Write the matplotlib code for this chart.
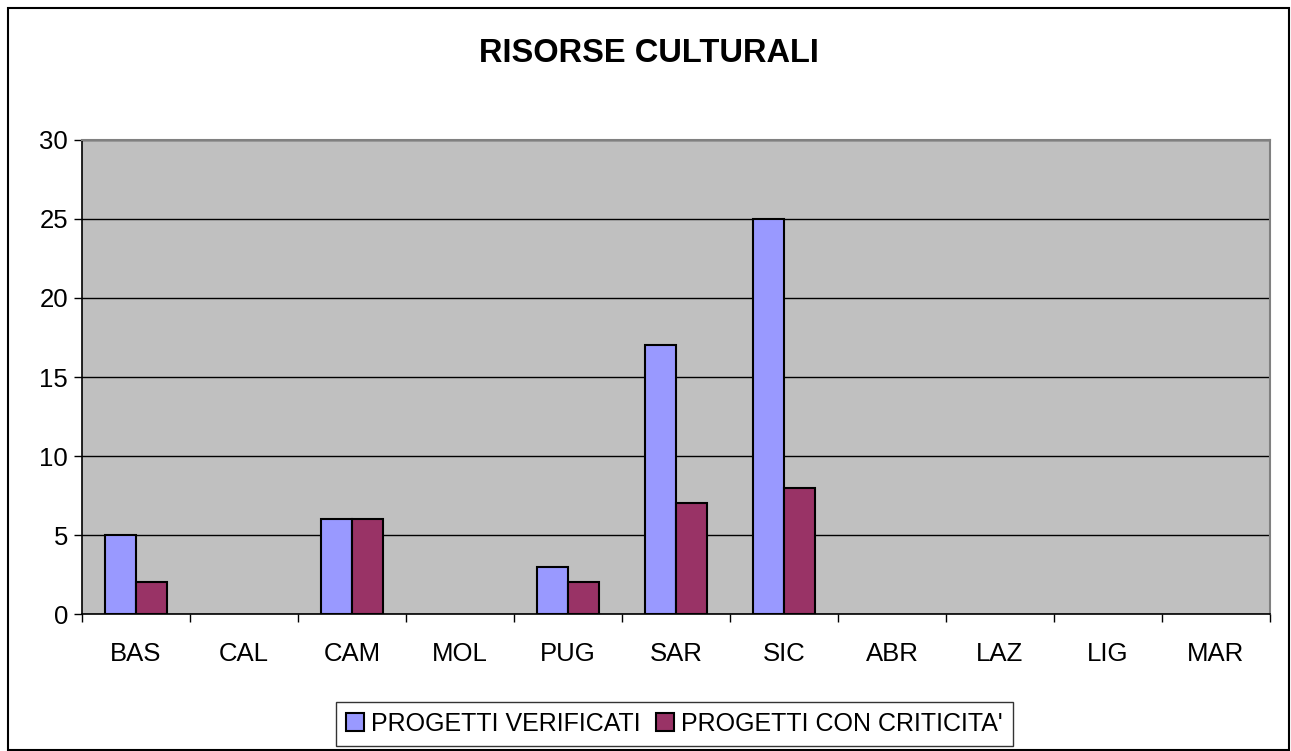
import numpy as np
import matplotlib
matplotlib.use("Agg")
import matplotlib.pyplot as plt
from matplotlib.patches import Rectangle

plt.rcParams['font.family'] = ['Liberation Sans', 'DejaVu Sans']

# Data
regions = ['BAS', 'CAL', 'CAM', 'MOL', 'PUG', 'SAR', 'SIC', 'ABR', 'LAZ', 'LIG', 'MAR']
verificati = [5, 0, 6, 0, 3, 17, 25, 0, 0, 0, 0]
criticita = [2, 0, 6, 0, 2, 7, 8, 0, 0, 0, 0]
series_names = ['PROGETTI VERIFICATI', "PROGETTI CON CRITICITA'"]
y_ticks = [0, 5, 10, 15, 20, 25, 30]

fig = plt.figure(figsize=(12.91, 7.51), dpi=100)
fig.patch.set_facecolor('white')

# Outer chart border
fig.patches.append(Rectangle((8 / 1291, 1 / 751), 1281 / 1291, 742 / 751,
                             transform=fig.transFigure, fill=False,
                             edgecolor='black', linewidth=1.5))

ax = fig.add_axes([0.0635, 0.1824, 0.9202, 0.6312])
ax.set_facecolor('#C0C0C0')

x = np.arange(len(regions))
w = 0.29
# no outline on empty bars (Excel draws nothing there)
lw_v = [1.5 if v > 0 else 0 for v in verificati]
lw_c = [1.5 if v > 0 else 0 for v in criticita]
ax.bar(x - w / 2, verificati, w, color='#9999FF', edgecolor='black', linewidth=lw_v,
       label=series_names[0], zorder=3)
ax.bar(x + w / 2, criticita, w, color='#993366', edgecolor='black', linewidth=lw_c,
       label=series_names[1], zorder=3)

ax.set_xlim(-0.5, len(regions) - 0.5)
ax.set_ylim(0, 30)
ax.set_yticks(y_ticks)
ax.set_yticklabels([str(v) for v in y_ticks], fontsize=18.5)
ax.yaxis.grid(True, color='black', linewidth=1, zorder=1)
ax.set_axisbelow(True)

# category labels centred, ticks on the boundaries
ax.set_xticks(x)
ax.set_xticklabels(regions, fontsize=18.5)
ax.set_xticks(np.arange(-0.5, len(regions)), minor=True)
ax.tick_params(axis='x', which='major', length=0, pad=20)
ax.tick_params(axis='x', which='minor', length=6, width=1, direction='out')
ax.tick_params(axis='y', length=6, width=1, direction='out', pad=4)

for s in ['top', 'right']:
    ax.spines[s].set_color('#808080')
    ax.spines[s].set_linewidth(1.5)
for s in ['left', 'bottom']:
    ax.spines[s].set_color('black')
    ax.spines[s].set_linewidth(1.2)

fig.text(0.503, 1 - 54 / 751, 'RISORSE CULTURALI', ha='center', va='center',
         fontsize=23.5, fontweight='bold')

leg = fig.legend(loc='center', bbox_to_anchor=(0.5225, 0.036), ncol=2, fontsize=18,
                 frameon=True, fancybox=False, edgecolor='black', handlelength=0.7,
                 handleheight=0.7, handletextpad=0.3, columnspacing=0.6,
                 borderpad=0.4)
leg.get_frame().set_linewidth(1)
for h in leg.legend_handles:
    h.set_linewidth(1.5)

fig.savefig('out.png', dpi=100)
